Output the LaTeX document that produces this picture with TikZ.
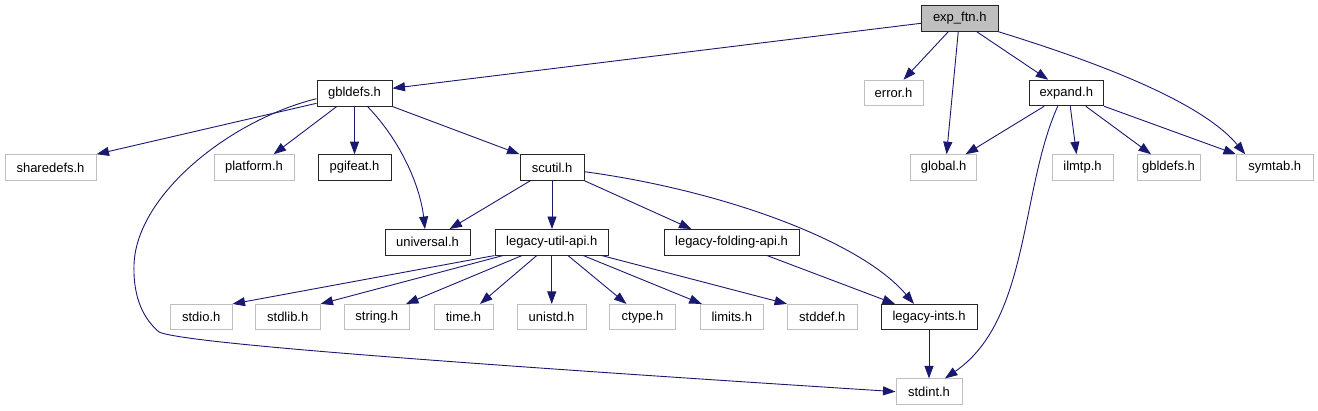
\documentclass[tikz,border=0pt]{standalone}
\usepackage{fontspec}
\setmainfont{Liberation Sans}
\usetikzlibrary{arrows.meta}
\definecolor{midnight}{HTML}{191970}
\definecolor{grey75}{HTML}{BFBFBF}
\tikzset{
  box/.style={rectangle, draw, line width=1pt, fill=white, inner sep=0pt,
    minimum height=25.5pt, font=\fontsize{13}{15}\selectfont, text=black},
  blk/.style={box, draw=black!85},
  gry/.style={box, draw=grey75},
  root/.style={box, draw=black!85, fill=grey75},
  edge/.style={draw=midnight, line width=0.9pt,
    -{Triangle[length=12.5pt,width=9pt]}, fill=none},
}
\begin{document}
\begin{tikzpicture}[x=1pt,y=-1pt]
\useasboundingbox (0,0) rectangle (1318,411);
% nodes
\node[root, minimum width=76.5pt] (exp) at (959.75,18.5) {exp\_ftn.h};
\node[blk, minimum width=75pt] (gbl) at (354.5,93.3) {gbldefs.h};
\node[gry, minimum width=59pt] (err) at (893.5,93) {error.h};
\node[blk, minimum width=74.5pt] (exd) at (1066.25,93) {expand.h};
\node[gry, minimum width=91pt] (shd) at (50.5,167.5) {sharedefs.h};
\node[gry, minimum width=80pt] (plt) at (254,167.5) {platform.h};
\node[blk, minimum width=73pt] (pgi) at (354.5,167.5) {pgifeat.h};
\node[blk, minimum width=64pt] (scu) at (552,167.5) {scutil.h};
\node[gry, minimum width=66.3pt] (glo) at (943.6,167.5) {global.h};
\node[gry, minimum width=61pt] (ilm) at (1082.5,167.5) {ilmtp.h};
\node[gry, minimum width=63pt] (gb2) at (1168.5,167.5) {gbldefs.h};
\node[gry, minimum width=76.5pt] (sym) at (1274.75,167.5) {symtab.h};
\node[blk, minimum width=85pt] (uni) at (427.5,242.3) {universal.h};
\node[blk, minimum width=113.5pt] (lua) at (551.75,242.3) {legacy-util-api.h};
\node[blk, minimum width=135pt] (lfa) at (731.5,242.3) {legacy-folding-api.h};
\node[gry, minimum width=61.5pt] (sio) at (201.25,317.2) {stdio.h};
\node[gry, minimum width=64.5pt] (slb) at (287.75,317.2) {stdlib.h};
\node[gry, minimum width=65.5pt] (str) at (376.75,317.2) {string.h};
\node[gry, minimum width=59pt] (tim) at (463.5,317.2) {time.h};
\node[gry, minimum width=69pt] (uns) at (551.5,317.2) {unistd.h};
\node[gry, minimum width=66pt] (cty) at (642.5,317.2) {ctype.h};
\node[gry, minimum width=63.6pt] (lim) at (731.8,317.2) {limits.h};
\node[gry, minimum width=69.4pt] (sdf) at (822.3,317.2) {stddef.h};
\node[blk, minimum width=96pt] (lin) at (929,317.2) {legacy-ints.h};
\node[gry, minimum width=66pt] (sin) at (929,391.65) {stdint.h};
% edges from exp_ftn.h
\draw[edge] ([yshift=-4.8pt]exp.west) -- ([yshift=5pt]gbl.east);
\draw[edge] ([xshift=-11.5pt]exp.south) -- ([xshift=10pt]err.north);
\draw[edge] ([xshift=-1.5pt]exp.south) -- ([xshift=3pt]glo.north);
\draw[edge] ([xshift=17pt]exp.south) -- ([xshift=-18pt]exd.north);
\draw[edge] (exp.south east) .. controls (1090,60) and (1200,100) .. ([xshift=-29.5pt]sym.north);
% edges from expand.h
\draw[edge] ([xshift=-22pt]exd.south) -- ([xshift=22pt]glo.north);
\draw[edge] ([xshift=-8.5pt]exd.south) .. controls (1020,190) and (1030,320) .. ([xshift=16pt]sin.north);
\draw[edge] ([xshift=4pt]exd.south) -- ([xshift=-6pt]ilm.north);
\draw[edge] ([xshift=19.5pt]exd.south) -- ([xshift=-17.5pt]gb2.north);
\draw[edge] (exd.south east) -- (sym.north west);
% edges from gbldefs.h
\draw[edge] ([yshift=-10pt]gbl.west) -- (shd.north east);
\draw[edge] ([yshift=-5.4pt]gbl.west) .. controls (230,120) and (136,195) .. (134,265)
  .. controls (133,300) and (145,320) .. (159,332)
  .. controls (180,342) and (400,360) .. (sin.west);
\draw[edge] ([xshift=-17.8pt]gbl.south) -- ([xshift=19.6pt]plt.north);
\draw[edge] (gbl.south) -- (pgi.north);
\draw[edge] ([xshift=13pt]gbl.south) .. controls (400,140) and (420,185) .. ([xshift=-2.5pt]uni.north);
\draw[edge] (gbl.south east) -- (scu.north west);
% edges from scutil.h
\draw[edge] ([xshift=-21.7pt]scu.south) -- ([xshift=22pt]uni.north);
\draw[edge] (scu.south) -- (scu.south |- lua.north);
\draw[edge] (scu.south east) -- ([xshift=-40pt]lfa.north);
\draw[edge] ([yshift=-4.2pt]scu.east) .. controls (720,190) and (860,240) .. ([xshift=-15pt]lin.north);
% others
\draw[edge] ([xshift=35.5pt]lfa.south) -- ([xshift=-34pt]lin.north);
\draw[edge] (lin.south) -- (sin.north);
% edges from legacy-util-api.h
\draw[edge] (lua.south west) -- (sio.north east);
\draw[edge] ([xshift=-48.75pt]lua.south) -- (slb.north east);
\draw[edge] ([xshift=-29.75pt]lua.south) -- ([xshift=29.25pt]str.north);
\draw[edge] ([xshift=-15pt]lua.south) -- ([xshift=16.5pt]tim.north);
\draw[edge] (lua.south) -- (lua.south |- uns.north);
\draw[edge] ([xshift=16.25pt]lua.south) -- ([xshift=-16pt]cty.north);
\draw[edge] ([xshift=31.5pt]lua.south) -- ([xshift=-30pt]lim.north);
\draw[edge] ([xshift=50pt]lua.south) -- (sdf.north west);
\end{tikzpicture}
\end{document}
